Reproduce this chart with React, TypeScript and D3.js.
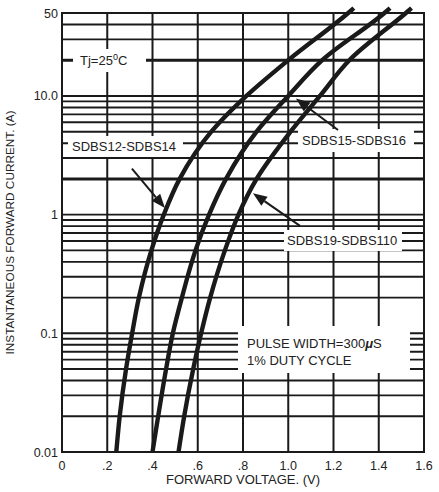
import * as d3 from "d3";

// forward current (A) at which the curves were read
const currents = [0.01, 0.02, 0.05, 0.1, 0.2, 0.5, 1, 2, 5, 10, 20, 50, 55];
// forward voltage (V) of each device family at those currents
const vfSdbs12 = [0.24, 0.255, 0.283, 0.31, 0.34, 0.395, 0.45, 0.52, 0.66, 0.815, 1.0, 1.265, 1.29];
const vfSdbs15 = [0.4, 0.425, 0.46, 0.49, 0.53, 0.59, 0.65, 0.725, 0.86, 1.0, 1.15, 1.425, 1.45];
const vfSdbs19 = [0.515, 0.54, 0.58, 0.615, 0.655, 0.72, 0.78, 0.86, 1.01, 1.14, 1.27, 1.52, 1.545];

const xTicks = [0, 0.2, 0.4, 0.6, 0.8, 1.0, 1.2, 1.4, 1.6];
const xTickLabels = ["0", ".2", ".4", ".6", ".8", "1.0", "1.2", "1.4", "1.6"];
const yTicks = [0.01, 0.1, 1, 10, 50];
const yTickLabels = ["0.01", "0.1", "1", "10.0", "50"];

// arrows: [tailV, tailI, tipV, tipI]
const arrows = [
  [0.309, 2.44, 0.455, 1.137],
  [1.22, 5.16, 1.034, 9.5],
  [1.052, 0.805, 0.844, 1.515],
];

const W = 439;
const H = 492;
const margin = { top: 13, right: 15, bottom: 40, left: 62 };
const INK = "#1a1a1a";
const FONT = "'Liberation Sans', Arial, Helvetica, sans-serif";

export default function App() {
  const x = d3.scaleLinear().domain([0, 1.6]).range([margin.left, W - margin.right]);
  const y = d3.scaleLog().domain([0.01, 50]).range([H - margin.bottom, margin.top]);
  const [x0, x1] = x.range();
  const [y0, y1] = y.range();

  const line = d3
    .line<number>()
    .x((v) => x(v))
    .y((_, i) => y(currents[i]))
    .curve(d3.curveMonotoneY);

  const gridY = y.ticks().filter((t) => t > 0.01 && t < 50);
  const isThick = (t: number) => [2, 20].some((v) => Math.abs(t - v) < 1e-9);

  const boxes = [
    { x: 73, y: 49, w: 73, h: 23 },
    { x: 68, y: 136, w: 115, h: 21 },
    { x: 298, y: 129, w: 116, h: 23 },
    { x: 284, y: 230, w: 118, h: 21 },
    { x: 238, y: 326, w: 172, h: 47 },
  ];

  const arrowShapes = arrows.map(([tv, ti, hv, hi]) => {
    const ax = x(tv), ay = y(ti), bx = x(hv), by = y(hi);
    const len = Math.hypot(bx - ax, by - ay);
    const ux = (bx - ax) / len, uy = (by - ay) / len;
    const hl = 14, hw = 5.5;
    const baseX = bx - ux * hl, baseY = by - uy * hl;
    const head = [
      [bx, by],
      [baseX - uy * hw, baseY + ux * hw],
      [baseX + uy * hw, baseY - ux * hw],
    ];
    return { ax, ay, baseX, baseY, head };
  });

  return (
    <div style={{ position: "absolute", left: 0, top: 0 }}>
      <svg width={W} height={H} style={{ display: "block", background: "#fff" }} fontFamily={FONT}>
        {/* horizontal grid */}
        {gridY.map((t) => (
          <line key={"h" + t} x1={x0} x2={x1} y1={y(t)} y2={y(t)} stroke={INK} strokeWidth={isThick(t) ? 3 : 1.9} />
        ))}
        {/* vertical grid */}
        {xTicks.slice(1, -1).map((t) => (
          <line key={"v" + t} x1={x(t)} x2={x(t)} y1={y1} y2={y0} stroke={INK} strokeWidth={2} />
        ))}
        <rect x={x0} y={y1} width={x1 - x0} height={y0 - y1} fill="none" stroke={INK} strokeWidth={2} />

        {/* label backgrounds */}
        {boxes.map((b, i) => (
          <rect key={"b" + i} x={b.x} y={b.y} width={b.w} height={b.h} fill="#fff" />
        ))}

        {/* curves */}
        {[vfSdbs12, vfSdbs15, vfSdbs19].map((s, i) => (
          <path key={"c" + i} d={line(s) ?? ""} fill="none" stroke={INK} strokeWidth={4.4} strokeLinecap="butt" />
        ))}

        {/* arrows */}
        {arrowShapes.map((a, i) => (
          <g key={"a" + i}>
            <line x1={a.ax} y1={a.ay} x2={a.baseX} y2={a.baseY} stroke={INK} strokeWidth={2} />
            <polygon points={a.head.map((p) => p.join(",")).join(" ")} fill={INK} />
          </g>
        ))}

        {/* annotations */}
        <g fill="#222" fontSize={13}>
          <text x={80} y={65}>
            Tj=25<tspan fontSize={9} dy={-5}>0</tspan>
            <tspan dy={5}>C</tspan>
          </text>
          <text x={72} y={151}>SDBS12-SDBS14</text>
          <text x={302} y={145}>SDBS15-SDBS16</text>
          <text x={287} y={245}>SDBS19-SDBS110</text>
          <text x={247} y={348}>
            PULSE WIDTH=300<tspan fontStyle="italic" fontWeight="bold">μ</tspan>S
          </text>
          <text x={247} y={365}>1% DUTY CYCLE</text>
        </g>

        {/* y tick labels */}
        <g fill="#222" fontSize={12.5} textAnchor="end">
          {yTicks.map((t, i) => (
            <text key={"yl" + t} x={x0 - 4} y={y(t) + 4.5}>
              {yTickLabels[i]}
            </text>
          ))}
        </g>
        {/* x tick labels */}
        <g fill="#222" fontSize={12.5} textAnchor="middle">
          {xTicks.map((t, i) => (
            <text key={"xl" + t} x={x(t)} y={y0 + 18}>
              {xTickLabels[i]}
            </text>
          ))}
        </g>

        <text x={(x0 + x1) / 2} y={y0 + 32} textAnchor="middle" fontSize={13} fill="#222">
          FORWARD VOLTAGE. (V)
        </text>
        <text
          transform={`translate(14,${(y0 + y1) / 2}) rotate(-90)`}
          textAnchor="middle"
          fontSize={11.8}
          fill="#222"
        >
          INSTANTANEOUS FORWARD CURRENT. (A)
        </text>
      </svg>
    </div>
  );
}
